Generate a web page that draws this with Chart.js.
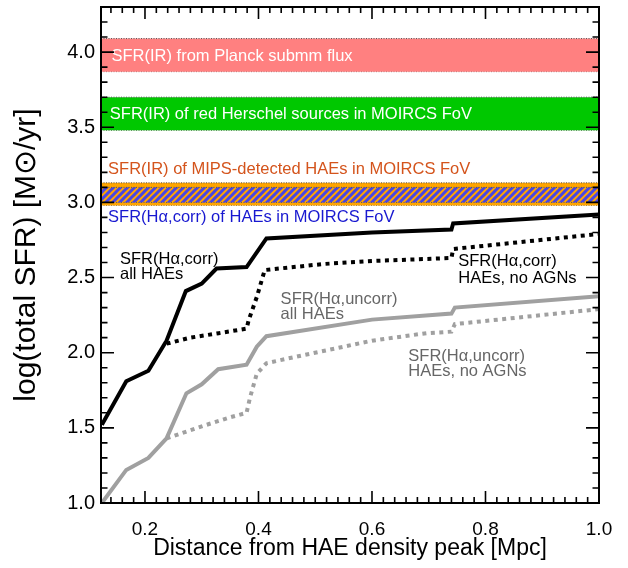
<!DOCTYPE html>
<html>
<head>
<meta charset="utf-8">
<script src="https://cdn.jsdelivr.net/npm/chart.js@4"></script>
<style>
  html, body { margin: 0; padding: 0; background: #fff; }
</style>
</head>
<body>
<canvas id="sfrChart" width="628" height="568"></canvas>
<script>
const FONT = '"Liberation Sans", Arial, Helvetica, sans-serif';

const X_MIN = 0.1225, X_MAX = 1.0;
const Y_MIN = 1.0, Y_MAX = 4.3;
const xTickValues = [0.2, 0.4, 0.6, 0.8, 1.0];
const yTickValues = [1.0, 1.5, 2.0, 2.5, 3.0, 3.5, 4.0];

// horizontal SFR(IR) / SFR(Ha) bands
const bandBottom = [3.87, 3.48, 2.98, 3.00];
const bandTop    = [4.09, 3.70, 3.13, 3.10];

// SFR(Ha,corr), all HAEs
const corrAllX = [0.124, 0.167, 0.206, 0.238, 0.272, 0.300, 0.326, 0.379, 0.414, 0.600, 0.740, 0.743, 1.0];
const corrAllY = [1.52, 1.81, 1.88, 2.08, 2.41, 2.46, 2.56, 2.57, 2.76, 2.80, 2.82, 2.86, 2.92];
// SFR(Ha,corr), HAEs without AGNs
const corrNoAgnX = [0.238, 0.280, 0.330, 0.379, 0.383, 0.397, 0.411, 0.514, 0.600, 0.740, 0.743, 1.0];
const corrNoAgnY = [2.06, 2.10, 2.13, 2.16, 2.22, 2.37, 2.55, 2.59, 2.61, 2.63, 2.69, 2.79];
// SFR(Ha,uncorr), all HAEs
const uncorrAllX = [0.124, 0.167, 0.206, 0.238, 0.273, 0.300, 0.329, 0.379, 0.397, 0.414, 0.600, 0.740, 0.746, 1.0];
const uncorrAllY = [1.00, 1.22, 1.30, 1.43, 1.73, 1.79, 1.89, 1.92, 2.04, 2.11, 2.22, 2.26, 2.30, 2.375];
// SFR(Ha,uncorr), HAEs without AGNs
const uncorrNoAgnX = [0.238, 0.300, 0.350, 0.379, 0.385, 0.397, 0.414, 0.450, 0.600, 0.696, 0.740, 0.746, 1.0];
const uncorrNoAgnY = [1.43, 1.51, 1.57, 1.60, 1.70, 1.86, 1.93, 1.96, 2.08, 2.13, 2.14, 2.19, 2.29];

// text notes (anchored in data units)
const noteText = [
  'SFR(IR) from Planck submm flux',
  'SFR(IR) of red Herschel sources in MOIRCS FoV',
  'SFR(IR) of MIPS-detected HAEs in MOIRCS FoV',
  'SFR(H\u03b1,corr) of HAEs in MOIRCS FoV',
  'SFR(H\u03b1,corr)', 'all HAEs',
  'SFR(H\u03b1,corr)', 'HAEs, no AGNs',
  'SFR(H\u03b1,uncorr)', 'all HAEs',
  'SFR(H\u03b1,uncorr)', 'HAEs, no AGNs'
];
const noteX = [0.141, 0.138, 0.135, 0.135, 0.156, 0.156, 0.752, 0.752, 0.439, 0.439, 0.664, 0.664];
const noteY = [3.97, 3.583, 3.219, 2.902, 2.618, 2.518, 2.605, 2.495, 2.355, 2.252, 1.977, 1.872];
const noteColor = ['#fff', '#fff', '#D4541C', '#1818D0', '#000', '#000', '#000', '#000', '#666', '#666', '#666', '#666'];

const pts = (xs, ys) => xs.map((x, i) => ({x: x, y: ys[i]}));
const flat = v => [{x: X_MIN, y: v}, {x: X_MAX, y: v}];

// blue diagonal hatch
function hatch() {
  const s = 7;
  const c = document.createElement('canvas');
  c.width = s; c.height = s;
  const g = c.getContext('2d');
  g.strokeStyle = '#4646E6';
  g.lineWidth = 3;
  g.beginPath();
  g.moveTo(0, s); g.lineTo(s, 0);
  g.moveTo(-s / 2, s / 2); g.lineTo(s / 2, -s / 2);
  g.moveTo(s / 2, s * 1.5); g.lineTo(s * 1.5, s / 2);
  g.stroke();
  return g.createPattern(c, 'repeat');
}

const bandFill = ['#FF8080', '#00C800', '#FFA500', null];
const bandSets = [];
bandTop.forEach((t, i) => {
  const ord = i === 3 ? 2 : 3;
  bandSets.push({
    data: flat(t), fill: '+1',
    backgroundColor: i === 3 ? hatch() : bandFill[i],
    borderColor: '#555', borderWidth: 1, borderDash: [1, 1.5],
    pointRadius: 0, order: ord
  });
  bandSets.push({
    data: flat(bandBottom[i]), fill: false,
    borderColor: '#555', borderWidth: 1, borderDash: [1, 1.5],
    pointRadius: 0, order: ord
  });
});

const curve = (xs, ys, color, dashed) => ({
  data: pts(xs, ys), borderColor: color, borderWidth: 4,
  borderDash: dashed ? [4, 4.5] : [], fill: false,
  pointRadius: 0, tension: 0, order: 0
});

const notes = {
  id: 'notes',
  afterDatasetsDraw(chart) {
    const {ctx, scales: {x, y}} = chart;
    ctx.save();
    ctx.font = '16.5px ' + FONT;
    ctx.textAlign = 'left';
    ctx.textBaseline = 'middle';
    noteText.forEach((t, i) => {
      ctx.fillStyle = noteColor[i];
      ctx.fillText(t, x.getPixelForValue(noteX[i]), y.getPixelForValue(noteY[i]));
    });
    ctx.restore();
  }
};

const frame = {
  id: 'frame',
  afterDatasetsDraw(chart) {
    const {ctx, chartArea: a, scales: {x, y}} = chart;
    ctx.save();
    ctx.strokeStyle = '#000';
    ctx.lineWidth = 1.6;
    ctx.beginPath();
    for (let i = 7; i <= 50; i++) {
      const px = x.getPixelForValue(i * 0.02);
      const len = i % 10 === 0 ? 12 : 6;
      ctx.moveTo(px, a.bottom); ctx.lineTo(px, a.bottom - len);
      ctx.moveTo(px, a.top); ctx.lineTo(px, a.top + len);
    }
    for (let i = 10; i <= 43; i++) {
      const py = y.getPixelForValue(i / 10);
      const len = i % 5 === 0 ? 13 : 6.5;
      ctx.moveTo(a.left, py); ctx.lineTo(a.left + len, py);
      ctx.moveTo(a.right, py); ctx.lineTo(a.right - len, py);
    }
    ctx.stroke();
    ctx.lineWidth = 2;
    ctx.strokeRect(a.left, a.top, a.right - a.left, a.bottom - a.top);
    ctx.restore();
  }
};

Chart.defaults.font.family = FONT;
Chart.defaults.color = '#000';

const ctx = document.getElementById('sfrChart').getContext('2d');
new Chart(ctx, {
  type: 'line',
  data: {
    datasets: [
      curve(corrAllX, corrAllY, '#000', false),
      curve(corrNoAgnX, corrNoAgnY, '#000', true),
      curve(uncorrAllX, uncorrAllY, '#A0A0A0', false),
      curve(uncorrNoAgnX, uncorrNoAgnY, '#A0A0A0', true)
    ].concat(bandSets)
  },
  options: {
    responsive: false,
    animation: false,
    layout: { padding: { top: 7, right: 29, left: 0, bottom: 0 } },
    plugins: { legend: { display: false }, tooltip: { enabled: false } },
    scales: {
      x: {
        type: 'linear', min: X_MIN, max: X_MAX,
        afterBuildTicks: s => { s.ticks = xTickValues.map(v => ({value: v})); },
        afterFit: s => { s.height = 65; s.paddingLeft = 0; s.paddingRight = 0; },
        ticks: { callback: v => v.toFixed(1), font: { size: 19 }, padding: 15, maxRotation: 0, autoSkip: false },
        grid: { display: false, drawTicks: false },
        border: { display: false },
        title: { display: true, text: 'Distance from HAE density peak [Mpc]', font: { size: 23 }, padding: { top: 0, bottom: 6 } }
      },
      y: {
        type: 'linear', min: Y_MIN, max: Y_MAX,
        afterBuildTicks: s => { s.ticks = yTickValues.map(v => ({value: v})); },
        afterFit: s => { s.width = 101; s.paddingTop = 0; s.paddingBottom = 0; },
        ticks: { callback: v => v.toFixed(1), font: { size: 20 }, padding: 6, autoSkip: false },
        grid: { display: false, drawTicks: false },
        border: { display: false },
        title: { display: true, text: 'log(total SFR) [M\u2299/yr]', font: { size: 30 }, padding: { top: 9, bottom: 0 } }
      }
    }
  },
  plugins: [notes, frame]
});
</script>
</body>
</html>
